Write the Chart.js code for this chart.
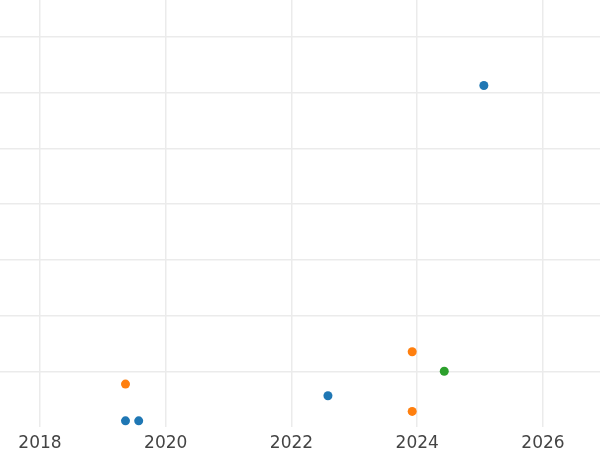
<!DOCTYPE html>
<html>
<head>
<meta charset="utf-8">
<script src="https://cdn.jsdelivr.net/npm/chart.js@4"></script>
<style>
  html, body { margin: 0; padding: 0; background: #fff; }
  #wrap { width: 600px; height: 450px; }
</style>
</head>
<body>
<div id="wrap"><canvas id="myChart"></canvas></div>
<script>
// years (decimal) and values for each series
const blueX = [2019.36, 2019.57, 2022.58, 2025.06];
const blueY = [0.11, 0.11, 0.56, 6.13];
const orangeX = [2019.36, 2023.92, 2023.92];
const orangeY = [0.77, 1.35, 0.28];
const greenX = [2024.43];
const greenY = [1.0];
const yearTicks = [2018, 2020, 2022, 2024, 2026];
const yTicks = [1, 2, 3, 4, 5, 6, 7];

function pts(xs, ys) {
  return xs.map((x, i) => ({ x: x, y: ys[i] }));
}

function series(xs, ys, color) {
  return {
    data: pts(xs, ys),
    backgroundColor: color,
    borderColor: color,
    pointRadius: 4.5,
    pointBorderWidth: 0
  };
}

var ctx = document.getElementById('myChart').getContext('2d');
var myChart = new Chart(ctx, {
  type: 'scatter',
  data: {
    datasets: [
      series(blueX, blueY, '#1f77b4'),
      series(orangeX, orangeY, '#ff7f0e'),
      series(greenX, greenY, '#2ca02c')
    ]
  },
  options: {
    responsive: true,
    maintainAspectRatio: false,
    animation: false,
    layout: { padding: 0, autoPadding: false },
    plugins: { legend: { display: false }, tooltip: { enabled: false } },
    scales: {
      x: {
        type: 'linear',
        min: 2017.364,
        max: 2026.907,
        afterBuildTicks: s => { s.ticks = yearTicks.map(v => ({ value: v })); },
        afterFit: s => { s.height = 23; s.paddingLeft = 0; s.paddingRight = 0; },
        border: { display: false },
        grid: { color: '#ebebeb', lineWidth: 1.5, drawTicks: false },
        ticks: {
          padding: 6,
          color: '#444',
          font: { family: 'DejaVu Sans', size: 17 },
          maxRotation: 0,
          callback: v => String(v)
        }
      },
      y: {
        min: 0,
        max: 7.665,
        afterBuildTicks: s => { s.ticks = yTicks.map(v => ({ value: v })); },
        afterFit: s => { s.width = 0; },
        border: { display: false },
        grid: { color: '#ebebeb', lineWidth: 1.5, drawTicks: false },
        ticks: { display: false }
      }
    }
  }
});
</script>
</body>
</html>
